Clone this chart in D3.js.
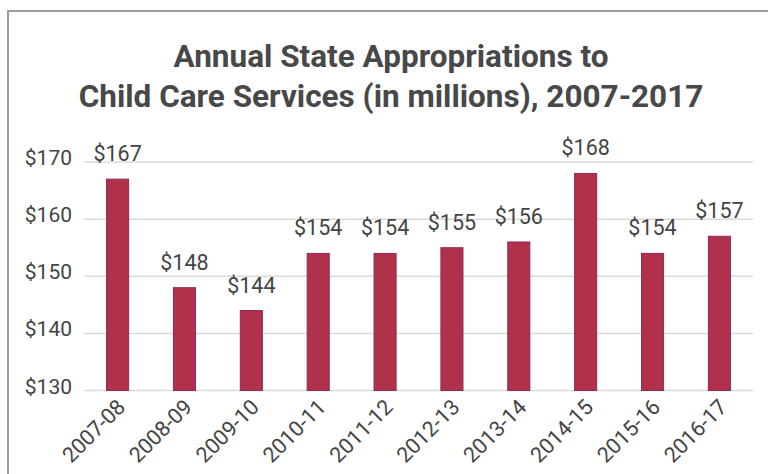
<!DOCTYPE html>
<html>
<head>
<meta charset="utf-8">
<script src="https://cdn.jsdelivr.net/npm/d3@7"></script>
<style>
  html, body { margin: 0; padding: 0; background: #fff; }
  svg { display: block; font-family: Roboto, "Noto Sans", sans-serif; }
</style>
</head>
<body>
<svg id="chart" width="768" height="474"></svg>
<script>
// Fiscal years and appropriations (millions of dollars)
const years = ["2007-08", "2008-09", "2009-10", "2010-11", "2011-12",
               "2012-13", "2013-14", "2014-15", "2015-16", "2016-17"];
const appropriations = [167, 148, 144, 154, 154, 155, 156, 168, 154, 157];
const yTicks = [130, 140, 150, 160, 170];
const titleLines = ["Annual State Appropriations to",
                    "Child Care Services (in millions), 2007-2017"];

const svg = d3.select("#chart");

// frame around the chart
svg.append("rect")
  .attr("x", 8).attr("y", 11)
  .attr("width", 800).attr("height", 520)
  .attr("fill", "#fff")
  .attr("stroke", "#969da4")
  .attr("stroke-width", 2);

const plot = { left: 84, right: 753, top: 162, bottom: 390.5 };

const x = d3.scaleBand()
  .domain(years)
  .range([plot.left, plot.right])
  .paddingInner(0.655)
  .paddingOuter(0.33);

const y = d3.scaleLinear()
  .domain([130, 170])
  .range([plot.bottom, plot.top]);

// title
svg.append("text")
  .attr("text-anchor", "middle")
  .attr("font-size", 31.5)
  .attr("font-weight", 700)
  .attr("fill", "#484848")
  .selectAll("tspan")
  .data(titleLines)
  .join("tspan")
  .attr("x", 391)
  .attr("y", (d, i) => 66.5 + i * 40.5)
  .text(d => d);

// horizontal gridlines
svg.append("g")
  .selectAll("line")
  .data(yTicks)
  .join("line")
  .attr("x1", plot.left).attr("x2", plot.right)
  .attr("y1", d => y(d)).attr("y2", d => y(d))
  .attr("stroke", "#dadada")
  .attr("stroke-width", 1.5);

// y axis labels
const yAxis = d3.axisLeft(y)
  .tickValues(yTicks)
  .tickSize(0)
  .tickPadding(0)
  .tickFormat(d => "$" + d);

svg.append("g")
  .attr("transform", `translate(${72},0)`)
  .call(yAxis)
  .call(g => g.select(".domain").remove())
  .call(g => g.selectAll("text")
    .attr("font-family", "Roboto, sans-serif")
    .attr("font-size", 21)
    .attr("fill", "#444")
    .attr("dy", "0.12em"));

// bars
svg.append("g")
  .selectAll("rect")
  .data(appropriations)
  .join("rect")
  .attr("x", (d, i) => x(years[i]) + 0.5)
  .attr("y", d => y(d))
  .attr("width", x.bandwidth() - 1)
  .attr("height", d => y(130) - y(d))
  .attr("fill", "#b1304a")
  .attr("stroke", "#8c2b5c")
  .attr("stroke-width", 1);

// value labels
svg.append("g")
  .selectAll("text")
  .data(appropriations)
  .join("text")
  .attr("x", (d, i) => x(years[i]) + x.bandwidth() / 2)
  .attr("y", d => y(d) - 18)
  .attr("text-anchor", "middle")
  .attr("font-size", 21.5)
  .attr("fill", "#444")
  .text(d => "$" + d);

// x axis category labels, slanted
const xAxis = d3.axisBottom(x).tickSize(0).tickPadding(0);
svg.append("g")
  .attr("transform", `translate(0,${plot.bottom})`)
  .call(xAxis)
  .call(g => g.select(".domain").remove())
  .call(g => g.selectAll("text")
    .attr("font-family", "Roboto, sans-serif")
    .attr("font-size", 21.5)
    .attr("fill", "#444")
    .attr("text-anchor", "end")
    .attr("dy", null)
    .attr("y", null)
    .attr("transform", "translate(9,18) rotate(-45)"));
</script>
</body>
</html>
